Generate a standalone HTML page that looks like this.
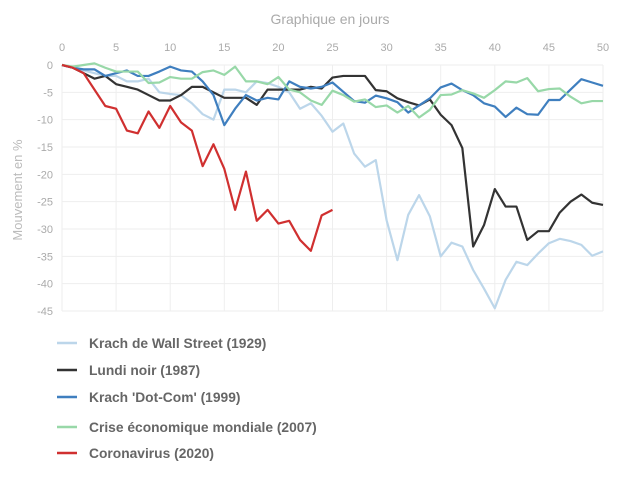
<!DOCTYPE html>
<html><head><meta charset="utf-8"><style>
body{margin:0;background:#fff;width:635px;height:482px;overflow:hidden;font-family:"Liberation Sans",sans-serif}
</style></head><body>
<svg id="chart" width="635" height="482" xmlns="http://www.w3.org/2000/svg">
<text x="330" y="24" text-anchor="middle" font-size="14" fill="#aaa">Graphique en jours</text>
<text transform="translate(22,190) rotate(-90)" text-anchor="middle" font-size="13" fill="#bbb">Mouvement en %</text>
<g id="grid"></g><g id="series"></g><g id="legend"></g>
</svg>
<script>
const xTicks=[0,5,10,15,20,25,30,35,40,45,50];
const yTicks=[0,-5,-10,-15,-20,-25,-30,-35,-40,-45];
const names=["Krach de Wall Street (1929)","Lundi noir (1987)","Krach 'Dot-Com' (1999)","Crise économique mondiale (2007)","Coronavirus (2020)"];
const colors=["#bcd6ea","#333333","#3f7fbf","#98d8a8","#d03030"];
const s1929=[0,-0.5,-1,-1.5,-2,-2,-3,-3,-2.5,-5,-5.3,-5.5,-7,-9,-10,-4.5,-4.5,-5,-3,-3.3,-4,-5,-8,-7,-9.3,-12.2,-10.7,-16.2,-18.6,-17.4,-28.4,-35.7,-27.4,-23.8,-27.7,-35,-32.5,-33.2,-37.5,-40.9,-44.5,-39.3,-36,-36.6,-34.5,-32.6,-31.8,-32.2,-32.9,-34.9,-34.1];
const s1987=[0,-0.5,-1.5,-2.5,-2,-3.5,-4,-4.5,-5.5,-6.5,-6.5,-5.5,-4,-4,-5,-6,-6,-6,-7.3,-4.5,-4.5,-4.5,-4.5,-4,-4.3,-2.3,-2,-2,-2,-4.6,-4.8,-6.1,-6.8,-7.4,-6.3,-9.1,-11,-15.2,-33.2,-29.3,-22.7,-25.9,-25.9,-32,-30.4,-30.4,-27,-25,-23.7,-25.2,-25.6];
const s1999=[0,-0.5,-0.8,-0.8,-2,-1.5,-1,-2,-2,-1.2,-0.3,-1,-1.2,-3,-5.5,-11,-8,-5.5,-6.5,-6,-6.3,-3,-4,-4.3,-4,-3.2,-4.9,-6.6,-6.9,-5.6,-6.1,-6.8,-8.7,-7.4,-6.1,-4.1,-3.4,-4.6,-5.5,-7,-7.6,-9.5,-7.8,-9,-9.1,-6.4,-6.4,-4.5,-2.6,-3.2,-3.8];
const s2007=[0,-0.3,0,0.3,-0.5,-1.2,-1.2,-1.2,-3.3,-3.2,-2.2,-2.5,-2.5,-1.3,-1,-1.8,-0.3,-3,-3,-3.5,-2.2,-4.5,-5,-6.5,-7.3,-4.7,-5.5,-6.7,-6.3,-7.7,-7.4,-8.7,-7.5,-9.6,-8.2,-5.5,-5.4,-4.6,-5.2,-6,-4.6,-3,-3.2,-2.4,-4.8,-4.4,-4.3,-5.8,-7,-6.6,-6.6];
const s2020=[0,-0.5,-1.5,-4.5,-7.5,-8,-12,-12.5,-8.5,-11.5,-7.5,-10.5,-12,-18.5,-14.5,-19,-26.5,-19.5,-28.5,-26.5,-29,-28.5,-32,-34,-27.5,-26.5];
const allSeries=[s1929,s1987,s1999,s2007,s2020];
const NS="http://www.w3.org/2000/svg";
const X=v=>62+v*(541/50), Y=v=>65-v*(246/45);
function mk(tag,attrs,parent){const e=document.createElementNS(NS,tag);for(const k in attrs)e.setAttribute(k,attrs[k]);parent.appendChild(e);return e;}
const grid=document.getElementById('grid'),ser=document.getElementById('series'),leg=document.getElementById('legend');
xTicks.forEach(t=>{
  const l=mk('line',{x1:X(t),x2:X(t),y1:Y(0),y2:Y(-45),stroke:'#eeeeee'},grid);
  
  
  const tx=mk('text',{x:X(t),y:51,'text-anchor':'middle','font-size':11,fill:'#aaa'},grid);tx.textContent=t;
  
  
});
yTicks.forEach(t=>{
  const l=mk('line',{x1:X(0),x2:X(50),y1:Y(t),y2:Y(t),stroke:'#eeeeee'},grid);
  
  
  const tx=mk('text',{x:53,y:Y(t)+4,'text-anchor':'end','font-size':11,fill:'#aaa'},grid);tx.textContent=t;
  
  
});
const legY=[343,370,397,427,453];
allSeries.forEach((s,i)=>{
  const p=mk('polyline',{points:s.map((v,d)=>X(d)+','+Y(v)).join(' '),fill:'none',stroke:colors[i],'stroke-width':2.2,'stroke-linejoin':'round'},ser);
  
  
  const g=mk('g',{},leg);
  
  
  mk('line',{x1:57,x2:77,y1:legY[i],y2:legY[i],stroke:colors[i],'stroke-width':2.5},g);
  const t=mk('text',{x:89,y:legY[i]+5,'font-size':13.8,'font-weight':'bold',fill:'#666'},g);t.textContent=names[i];
});
</script>
</body></html>
